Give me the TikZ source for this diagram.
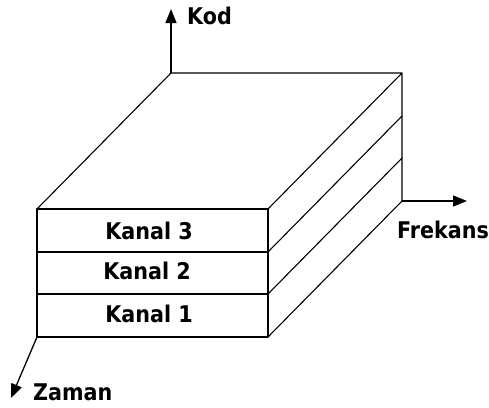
\documentclass[tikz,border=0pt]{standalone}
\usepackage{fontspec}
\setmainfont{DejaVu Sans Condensed}
\usetikzlibrary{calc,arrows.meta}

\begin{document}
\begin{tikzpicture}[
  x=1pt,
  y=-1pt
]

  \path[use as bounding box] (0,0) rectangle (489,407);

  \tikzstyle{edge}=[draw,line width=1.1pt,line join=round]
  \tikzstyle{axis}=[draw,line width=1.3pt,-{Triangle[length=14pt,width=11pt]}]
  \tikzstyle{chanlab}=[inner sep=0pt,font=\bfseries\fontsize{23}{26}\selectfont]
  \tikzstyle{axislab}=[inner sep=0pt,font=\bfseries\fontsize{23}{26}\selectfont]

  % front face
  \coordinate (f1) at (37,209);
  \coordinate (f2) at (268,209);
  \coordinate (f3) at (268,337);
  \coordinate (f4) at (37,337);
  \coordinate (m1l) at (37,252);
  \coordinate (m1r) at (268,252);
  \coordinate (m2l) at (37,294);
  \coordinate (m2r) at (268,294);

  % back corners (depth offset)
  \coordinate (b1) at ($(f1)+(134,-136)$);
  \coordinate (b2) at ($(f2)+(134,-136)$);
  \coordinate (b3) at ($(f3)+(134,-136)$);
  \coordinate (n1) at ($(m1r)+(134,-136)$);
  \coordinate (n2) at ($(m2r)+(134,-136)$);

  % box
  \draw[edge] (f1) -- (f2) -- (f3) -- (f4) -- cycle;
  \draw[edge] (m1l) -- (m1r);
  \draw[edge] (m2l) -- (m2r);
  \draw[edge] (f1) -- (b1) -- (b2) -- (f2);
  \draw[edge] (b2) -- (b3) -- (f3);
  \draw[edge] (m1r) -- (n1);
  \draw[edge] (m2r) -- (n2);

  % channels
  \node[chanlab] (k3) at (149,231) {Kanal 3};
  \node[chanlab] (k2) at (147,271) {Kanal 2};
  \node[chanlab] (k1) at (149,314) {Kanal 1};

  % axes
  \coordinate (kodtip) at (171,9);
  \coordinate (frektip) at (467,201);
  \coordinate (zamtip) at (11,398);

  \draw[axis] (b1) -- (kodtip);
  \draw[axis] (b3) -- (frektip);
  \draw[axis] (f4) -- (zamtip);

  \node[axislab,anchor=west] (kod) at (187,16) {Kod};
  \node[axislab] (frek) at (443,230) {Frekans};
  \node[axislab,anchor=west] (zaman) at (33,392) {Zaman};

\end{tikzpicture}
\end{document}
